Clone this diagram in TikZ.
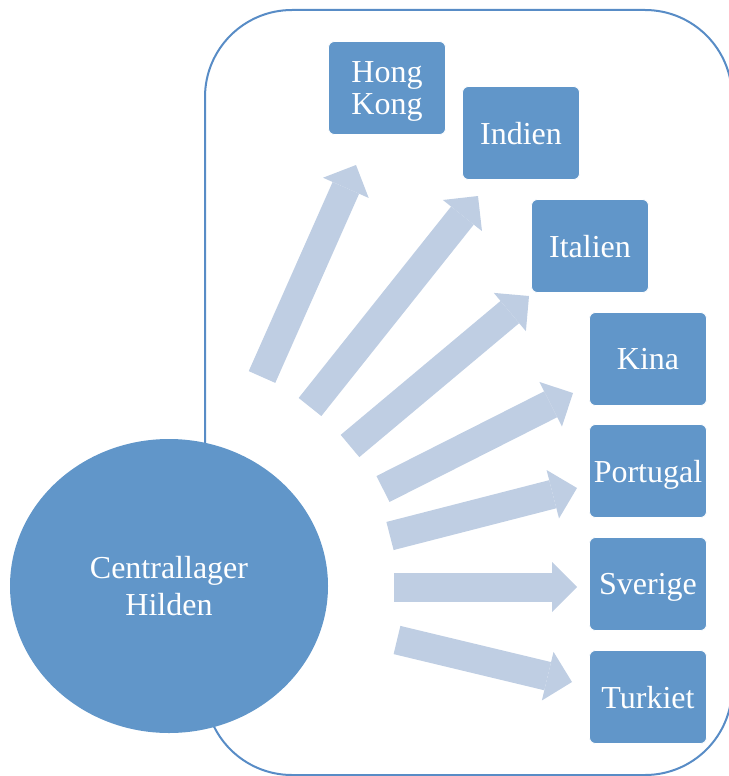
\documentclass[tikz,border=0pt]{standalone}
\usepackage{fontspec}
\setmainfont{Liberation Serif}
\usetikzlibrary{arrows.meta,shapes.geometric}

\definecolor{boxblue}{RGB}{97,150,201}
\definecolor{flowblue}{RGB}{191,206,227}
\definecolor{framecol}{RGB}{88,140,198}

\tikzset{
  land/.style={fill=boxblue, draw=white, line width=0.8pt, rounded corners=6pt,
    minimum width=117pt, minimum height=93pt, inner sep=0pt, text=white,
    align=center, text depth=0pt, font=\fontsize{32}{32}\selectfont},
  flow/.style={color=flowblue, line width=29pt,
    -{Triangle[length=25pt,width=50pt,line width=0pt]}},
}

\begin{document}
\begin{tikzpicture}[x=1pt,y=-1pt]
  \useasboundingbox (0,0) rectangle (728,776);
  \draw[framecol, line width=2pt, rounded corners=87pt] (205,10) rectangle (732,775);

  \node[ellipse, fill=boxblue, minimum width=318pt, minimum height=294pt,
        inner sep=0pt, text=white, align=center,
        font=\fontsize{32}{37}\selectfont] (hub) at (169,586) {Centrallager\\Hilden};

  \node[land] (hk) at (387,88) {Hong\\Kong};
  \node[land] (ind) at (521,133) {Indien};
  \node[land] (ita) at (590,246) {Italien};
  \node[land] (kin) at (648,359) {Kina};
  \node[land] (por) at (648,471) {Portugal};
  \node[land] (sve) at (648,584) {Sverige};
  \node[land] (tur) at (648,697) {Turkiet};

  % tails on an arc round the hub, tips in front of the boxes
  \coordinate (hk-s) at (262,377);  \coordinate (hk-e) at (356,165);
  \coordinate (ind-s) at (310,407); \coordinate (ind-e) at (478,196);
  \coordinate (ita-s) at (350,446); \coordinate (ita-e) at (529,296);
  \coordinate (kin-s) at (383,489); \coordinate (kin-e) at (573,393);
  \coordinate (por-s) at (390,536); \coordinate (por-e) at (577,488);
  \coordinate (sve-s) at (394,587); \coordinate (sve-e) at (577,587);
  \coordinate (tur-s) at (397,640); \coordinate (tur-e) at (572,682);

  \draw[flow] (hk-s) -- (hk-e);
  \draw[flow] (ind-s) -- (ind-e);
  \draw[flow] (ita-s) -- (ita-e);
  \draw[flow] (kin-s) -- (kin-e);
  \draw[flow] (por-s) -- (por-e);
  \draw[flow] (sve-s) -- (sve-e);
  \draw[flow] (tur-s) -- (tur-e);
\end{tikzpicture}
\end{document}
